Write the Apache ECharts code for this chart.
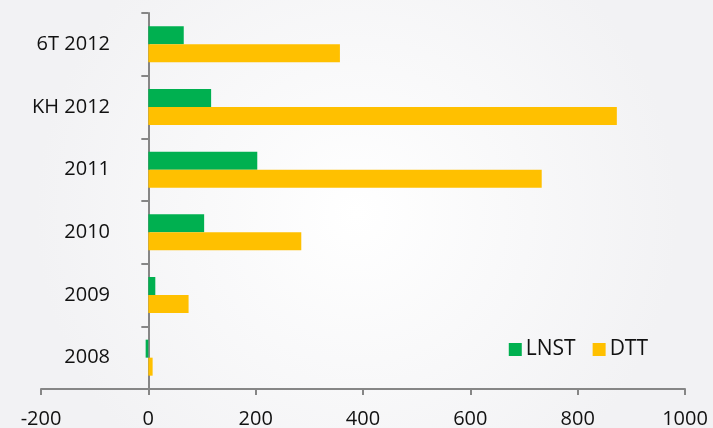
<!DOCTYPE html>
<html>
  <head>
    <meta charset="utf-8">
    <title>LNST - DTT</title>
    <script src="https://cdn.jsdelivr.net/npm/echarts@6/dist/echarts.min.js"></script>
    <style type="text/css">
      html, body { margin: 0; padding: 0; }
      #main { width: 713px; height: 428px; }
    </style>
  </head>
  <body>
    <div id="main"></div>
    <script type="text/javascript">
      // data, bottom to top
      var years = ['2008', '2009', '2010', '2011', 'KH 2012', '6T 2012'];
      var lnst = [-5, 13, 104, 203, 117, 66];
      var dtt = [8, 75, 285, 733, 873, 357];
      var xTicks = [-200, 0, 200, 400, 600, 800, 1000];

      var myChart = echarts.init(document.getElementById('main'));

      var option = {
        backgroundColor: {
          type: 'radial', x: 0.5, y: 0.5, r: 0.75,
          colorStops: [
            { offset: 0, color: '#ffffff' },
            { offset: 1, color: '#f2f2f4' }
          ]
        },
        textStyle: { fontFamily: 'Open Sans' },
        color: ['#00B050', '#FFC000'],
        grid: { left: 41, right: 28, top: 13, bottom: 39, containLabel: false, outerBoundsMode: 'none' },
        legend: {
          right: 60, top: 334,
          itemWidth: 13, itemHeight: 13, itemGap: 17,
          icon: 'rect',
          textStyle: { fontSize: 21, color: '#111', fontFamily: 'Open Sans', padding: [0, 0, 0, -1] },
          data: ['LNST', 'DTT']
        },
        xAxis: {
          type: 'value',
          min: xTicks[0], max: xTicks[xTicks.length - 1], interval: 200,
          splitLine: { show: false },
          axisLine: { show: true, lineStyle: { color: '#868686', width: 2 } },
          axisTick: { show: true, length: 6, lineStyle: { color: '#868686', width: 2 } },
          axisLabel: { fontSize: 20, color: '#111', margin: 20, formatter: function (v) { return String(v); } }
        },
        yAxis: {
          type: 'category',
          data: years,
          axisLine: { onZero: true, lineStyle: { color: '#868686', width: 2 } },
          axisTick: { show: true, length: 7, lineStyle: { color: '#868686', width: 2 } },
          axisLabel: { fontSize: 20, color: '#111', margin: -69 }
        },
        series: [
          { name: 'LNST', type: 'bar', barWidth: 18, barGap: '0%', data: lnst },
          { name: 'DTT', type: 'bar', barWidth: 18, barGap: '0%', data: dtt }
        ]
      };

      myChart.setOption(option);
    </script>
  </body>
</html>
